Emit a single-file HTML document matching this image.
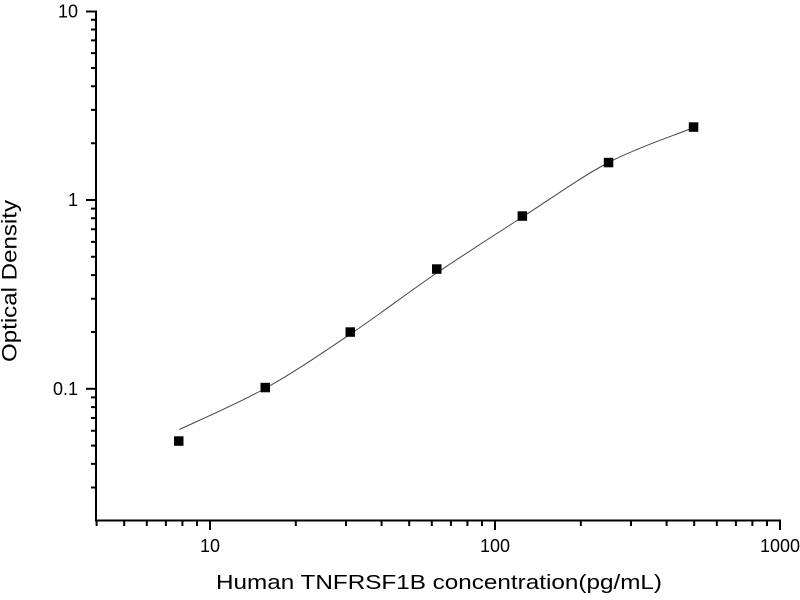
<!DOCTYPE html>
<html>
<head>
<meta charset="utf-8">
<style>
html,body{margin:0;padding:0;background:#fff;}
svg{display:block;}
text{font-family:"Liberation Sans",Arial,sans-serif;fill:#000;}
</style>
</head>
<body>
<svg width="800" height="600" viewBox="0 0 800 600" xmlns="http://www.w3.org/2000/svg">
<rect width="800" height="600" fill="#fff"/>
<!-- axes -->
<g stroke="#000" stroke-width="2" fill="none">
<line x1="96" y1="10.5" x2="96" y2="521.5"/>
<line x1="95" y1="520.5" x2="781" y2="520.5"/>
<!-- y major ticks -->
<line x1="86" y1="11.5" x2="96" y2="11.5"/>
<line x1="86" y1="200" x2="96" y2="200"/>
<line x1="86" y1="388.8" x2="96" y2="388.8"/>
<!-- y minor ticks -->
<path d="M91 19.8H96M91 29.5H96M91 40.4H96M91 53.1H96M91 68H96M91 86.3H96M91 109.9H96M91 143.2H96
M91 208.6H96M91 218.3H96M91 229.2H96M91 241.9H96M91 256.8H96M91 275.1H96M91 298.7H96M91 332H96
M91 397.4H96M91 407.1H96M91 418H96M91 430.7H96M91 445.6H96M91 463.9H96M91 487.5H96"/>
<!-- x major ticks -->
<line x1="210" y1="520" x2="210" y2="530"/>
<line x1="495" y1="520" x2="495" y2="530"/>
<line x1="780" y1="520" x2="780" y2="530"/>
<!-- x minor ticks -->
<path d="M96.6 520V526M124.2 520V526M146.8 520V526M165.9 520V526M182.4 520V526M197 520V526
M295.8 520V526M346 520V526M381.6 520V526M409.2 520V526M431.8 520V526M450.9 520V526M467.4 520V526M482 520V526
M580.8 520V526M631 520V526M666.6 520V526M694.2 520V526M716.8 520V526M735.9 520V526M752.4 520V526M767 520V526"/>
</g>
<!-- y tick labels -->
<g font-size="18" text-anchor="end">
<text x="78" y="17.5">10</text>
<text x="78" y="206">1</text>
<text x="78" y="395">0.1</text>
</g>
<!-- x tick labels -->
<g font-size="18" text-anchor="middle">
<text x="210" y="552">10</text>
<text x="495" y="552">100</text>
<text x="780" y="552">1000</text>
</g>
<!-- axis titles -->
<text x="216" y="589" font-size="20.5" textLength="446" lengthAdjust="spacingAndGlyphs">Human TNFRSF1B concentration(pg/mL)</text>
<text transform="translate(16.5,362) rotate(-90)" x="0" y="0" font-size="21" textLength="162" lengthAdjust="spacingAndGlyphs">Optical Density</text>
<!-- fitted curve -->
<path d="M179.4 429.5 C193.7 422.7 236.5 404.4 265 388.5 C293.5 372.6 321.9 353.3 350.5 334 C379.1 314.8 408 292.5 436.7 273 C465.4 253.5 493.9 235.4 522.5 217 C551.1 198.6 580.6 177.2 608.5 162.5 C636.4 147.8 676.4 134.6 690 129"
 fill="none" stroke="#444" stroke-width="1"/>
<!-- markers -->
<g fill="#000">
<rect x="174" y="436.3" width="9.5" height="9.5"/>
<rect x="260.5" y="382.8" width="9.5" height="9.5"/>
<rect x="345.5" y="327.3" width="9.5" height="9.5"/>
<rect x="432" y="264.3" width="9.5" height="9.5"/>
<rect x="517.6" y="211.3" width="9.5" height="9.5"/>
<rect x="603.8" y="157.8" width="9.5" height="9.5"/>
<rect x="688.8" y="122.3" width="9.5" height="9.5"/>
</g>
</svg>
</body>
</html>
